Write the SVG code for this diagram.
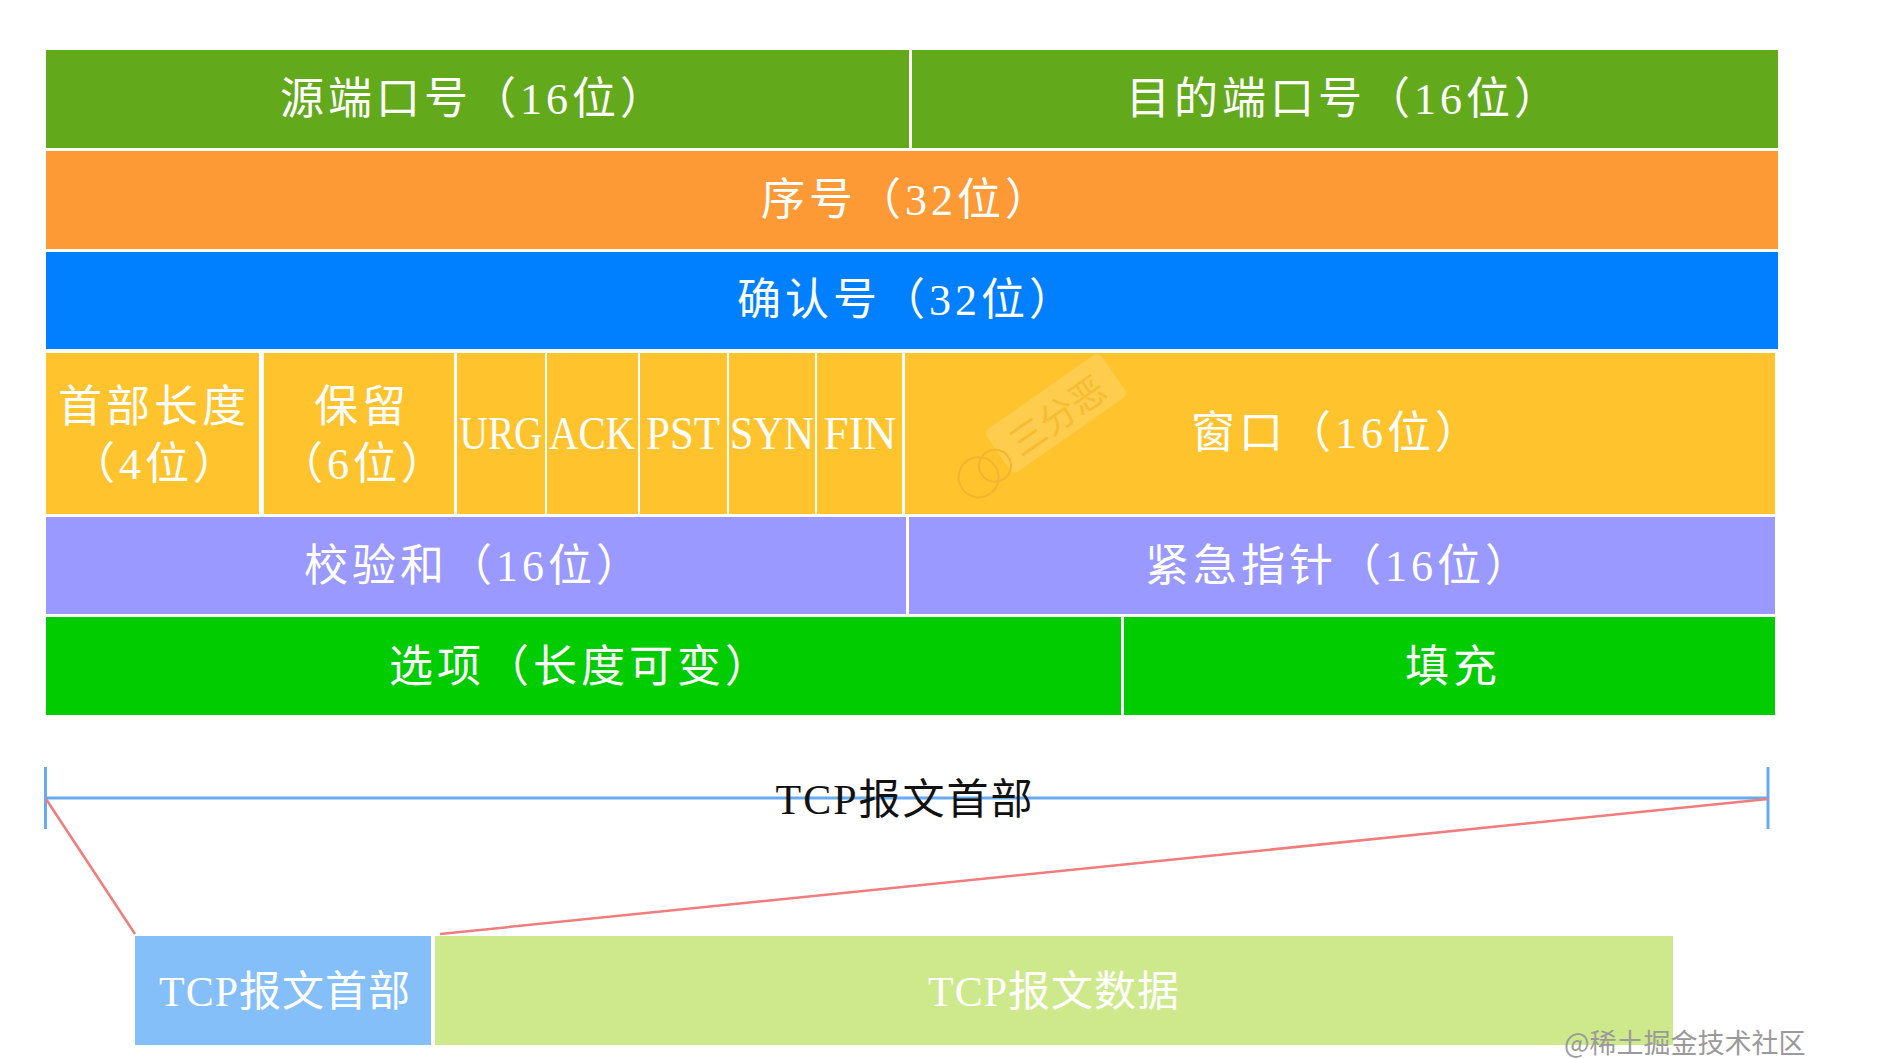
<svg xmlns="http://www.w3.org/2000/svg" width="1877" height="1059" viewBox="0 0 1877 1059">
<style>
.t{font-family:"Liberation Serif","Noto Sans CJK SC",serif;fill:#fff;text-anchor:middle;dominant-baseline:central;font-size:44px;letter-spacing:4px}
.b{font-family:"Liberation Serif","Noto Sans CJK SC",serif;fill:#fff;text-anchor:middle;dominant-baseline:central;font-size:42px;letter-spacing:1px}
.f{font-family:"Liberation Serif",serif;fill:#fff;text-anchor:middle;dominant-baseline:central;font-size:46px}
.g1{fill:#63A91C}.or{fill:#FE9A35}.bl{fill:#0080FF}.ye{fill:#FFC32D}.pu{fill:#9999FF}.gr{fill:#00CC00}
.dim{stroke:#66AAF0;stroke-width:3;fill:none}
.red{stroke:#F07C7C;stroke-width:2.5;fill:none}
</style>
<rect width="1877" height="1059" fill="#fff"/>
<g id="src-port"><rect class="g1" x="46" y="50" width="863" height="98"/><text class="t" x="474" y="99">源端口号（16位）</text></g>
<g id="dst-port"><rect class="g1" x="912" y="50" width="866" height="98"/><text class="t" x="1344" y="99">目的端口号（16位）</text></g>
<g id="seq"><rect class="or" x="46" y="151" width="1732" height="98"/><text class="t" x="907" y="200">序号（32位）</text></g>
<g id="ack-num"><rect class="bl" x="46" y="252" width="1732" height="97"/><text class="t" x="907" y="300">确认号（32位）</text></g>
<g id="hlen"><rect class="ye" x="46" y="353" width="213" height="161"/><text class="t" x="154" y="407">首部长度</text><text class="t" x="156" y="464">（4位）</text></g>
<g id="reserved"><rect class="ye" x="264" y="353" width="190" height="161"/><text class="t" x="362" y="407">保留</text><text class="t" x="364" y="464">（6位）</text></g>
<g id="urg"><rect class="ye" x="457" y="353" width="88" height="161"/><text class="f" x="501" y="433" textLength="83" lengthAdjust="spacingAndGlyphs">URG</text></g>
<g id="ack"><rect class="ye" x="547" y="353" width="91" height="161"/><text class="f" x="592" y="433" textLength="86" lengthAdjust="spacingAndGlyphs">ACK</text></g>
<g id="pst"><rect class="ye" x="640" y="353" width="87" height="161"/><text class="f" x="683" y="433" textLength="74" lengthAdjust="spacingAndGlyphs">PST</text></g>
<g id="syn"><rect class="ye" x="729" y="353" width="86" height="161"/><text class="f" x="772" y="433" textLength="84" lengthAdjust="spacingAndGlyphs">SYN</text></g>
<g id="fin"><rect class="ye" x="817" y="353" width="85" height="161"/><text class="f" x="860" y="433" textLength="73" lengthAdjust="spacingAndGlyphs">FIN</text></g>
<g id="window"><rect class="ye" x="905" y="353" width="870" height="161"/>
<g transform="translate(1015,442) rotate(-35)" opacity="0.35"><rect x="-20" y="-26" width="140" height="52" rx="6" fill="#FFE08A"/><text x="50" y="0" font-family="Noto Sans CJK SC,sans-serif" font-size="36" fill="#E8B040" text-anchor="middle" dominant-baseline="central">三分恶</text><circle cx="-50" cy="8" r="20" fill="none" stroke="#D9A030" stroke-width="2"/><circle cx="-30" cy="8" r="16" fill="none" stroke="#D9A030" stroke-width="2"/></g>
<text class="t" x="1337" y="433">窗口（16位）</text></g>
<g id="checksum"><rect class="pu" x="46" y="517" width="860" height="97"/><text class="t" x="474" y="566">校验和（16位）</text></g>
<g id="urgent"><rect class="pu" x="909" y="517" width="866" height="97"/><text class="t" x="1339" y="566">紧急指针（16位）</text></g>
<g id="options"><rect class="gr" x="46" y="617" width="1075" height="98"/><text class="t" x="581" y="667">选项（长度可变）</text></g>
<g id="padding"><rect class="gr" x="1124" y="617" width="651" height="98"/><text class="t" x="1453" y="667">填充</text></g>
<g id="seg-header"><rect x="135" y="936" width="296" height="109" fill="#85BFFA"/><text class="b" x="285" y="992">TCP报文首部</text></g>
<g id="seg-data"><rect x="435" y="936" width="1238" height="109" fill="#CEE98B"/><text class="b" x="1054" y="992">TCP报文数据</text></g>
<g id="connectors">
<line class="dim" x1="45.5" y1="798" x2="1768" y2="798"/>
<line class="dim" x1="45.5" y1="767" x2="45.5" y2="829" stroke-width="2"/>
<line class="dim" x1="1768" y1="767" x2="1768" y2="829" stroke-width="2"/>
<line class="red" x1="46" y1="799" x2="135" y2="934"/>
<line class="red" x1="1768" y1="799" x2="440" y2="934"/>
</g>
<text x="905" y="800" font-family="Liberation Serif,Noto Sans CJK SC,serif" font-size="42" fill="#111" text-anchor="middle" dominant-baseline="central" letter-spacing="2">TCP报文首部</text>
<text x="1564" y="1053" font-family="Noto Sans CJK SC,sans-serif" font-size="27" fill="#9a9a9a">@稀土掘金技术社区</text>
</svg>
